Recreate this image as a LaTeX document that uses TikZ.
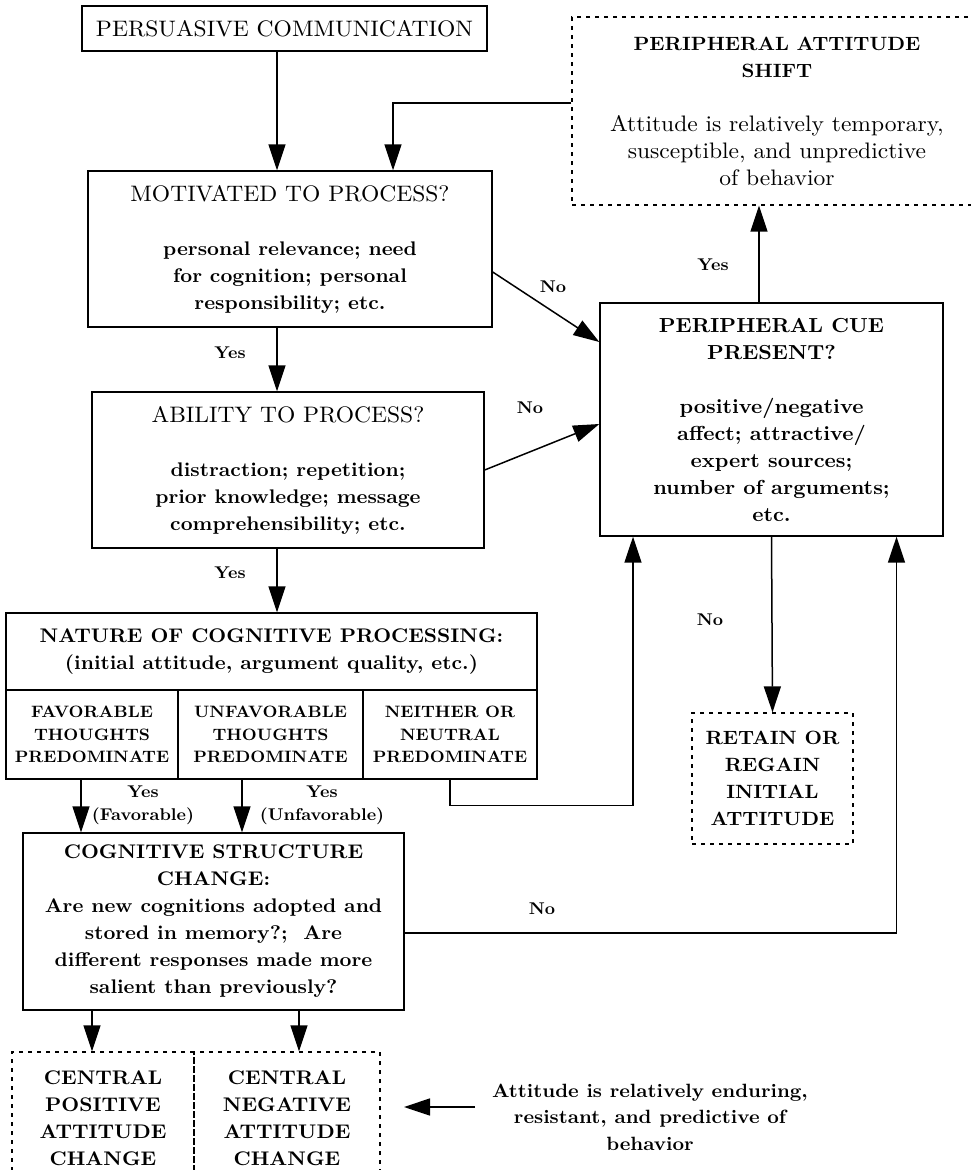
\documentclass[tikz,border=0pt]{standalone}
\usepackage{fontspec}
\setmainfont{lmroman10-regular.otf}[BoldFont=lmroman10-bold.otf, FakeStretch=1.05]
\usetikzlibrary{arrows.meta}
\tikzset{
  box/.style={draw, line width=1.4pt, inner sep=0pt, align=center,
    font=\bfseries\fontsize{19.7}{27}\selectfont},
  dbox/.style={box, line width=1.3pt, dash pattern=on 4pt off 5pt},
  sub/.style={box, font=\bfseries\fontsize{16.5}{22.5}\selectfont},
  plain/.style={font=\mdseries\fontsize{22.4}{27}\selectfont},
  lbl/.style={inner sep=0pt, align=center, font=\bfseries\fontsize{17}{23}\selectfont},
  arr/.style={line width=1.5pt, -{Triangle[length=26pt,width=17pt]}},
}

\begin{document}
\begin{tikzpicture}[x=1pt, y=-1pt]
    \useasboundingbox (0,0) rectangle (970,1170);
    \coordinate (spine) at (277,0);

    % left column
    \node[box, plain, minimum width=405pt, minimum height=45pt] (pc) at (284.5,28.5)
        {PERSUASIVE COMMUNICATION};
    \node[box, minimum width=404pt, minimum height=156pt] (mot) at (290,249)
        {\mdseries\fontsize{22.4}{27}\selectfont MOTIVATED TO PROCESS?\\[27pt]
        personal relevance; need\\ for cognition; personal\\ responsibility; etc.};
    \node[box, minimum width=392pt, minimum height=156pt] (abl) at (288,470)
        {\mdseries\fontsize{22.4}{27}\selectfont ABILITY TO PROCESS?\\[27pt]
        distraction; repetition;\\ prior knowledge; message\\ comprehensibility; etc.};
    \node[box, minimum width=531pt, minimum height=77pt] (nat) at (271.5,651.5)
        {NATURE OF COGNITIVE PROCESSING:\\
        (initial attitude, argument quality, etc.)};
    \node[sub, minimum width=172pt, minimum height=89pt] (fav) at (92,734.5)
        {FAVORABLE\\ THOUGHTS\\ PREDOMINATE};
    \node[sub, minimum width=185pt, minimum height=89pt] (unf) at (270.5,734.5)
        {UNFAVORABLE\\ THOUGHTS\\ PREDOMINATE};
    \node[sub, minimum width=174pt, minimum height=89pt] (nei) at (450,734.5)
        {NEITHER OR\\ NEUTRAL\\ PREDOMINATE};
    \node[box, minimum width=381pt, minimum height=177pt] (cog) at (213.5,921.5)
        {COGNITIVE STRUCTURE\\ CHANGE:\\
        Are new cognitions adopted and\\ stored in memory?;\ \ Are\\
        different responses made more\\ salient than previously?};
    \node[dbox, minimum width=182pt, minimum height=133pt] (cpos) at (103,1118.5)
        {CENTRAL\\ POSITIVE\\ ATTITUDE\\ CHANGE};
    \node[dbox, minimum width=186pt, minimum height=133pt] (cneg) at (287,1118.5)
        {CENTRAL\\ NEGATIVE\\ ATTITUDE\\ CHANGE};

    % right column
    \node[dbox, plain, minimum width=410pt, minimum height=188pt] (shift) at (777,111)
        {\bfseries\fontsize{19.2}{27}\selectfont PERIPHERAL ATTITUDE\\
        \bfseries\fontsize{19.2}{27}\selectfont SHIFT\\[27pt]
        Attitude is relatively temporary,\\ susceptible, and unpredictive\\
        of behavior};
    \node[box, minimum width=343pt, minimum height=233pt,
        font=\bfseries\fontsize{20.3}{27}\selectfont] (cue) at (771.5,419.5)
        {PERIPHERAL CUE\\ PRESENT?\\[27pt] positive/negative\\
        affect; attractive/\\ expert sources;\\ number of arguments;\\ etc.};
    \node[dbox, minimum width=161pt, minimum height=131pt,
        font=\bfseries\fontsize{19.2}{27}\selectfont] (ret) at (772.5,778.5)
        {RETAIN OR\\ REGAIN\\ INITIAL\\ ATTITUDE};
    \node[box, draw=none, font=\bfseries\fontsize{19.2}{26.5}\selectfont] (att) at (650,1117)
        {Attitude is relatively enduring,\\ resistant, and predictive of\\ behavior};

    % labels
    \node[lbl] (y1) at (230,353) {Yes};
    \node[lbl] (y2) at (230,573) {Yes};
    \node[lbl] (y3) at (143,805) {Yes\\(Favorable)};
    \node[lbl] (y4) at (322,805) {Yes\\(Unfavorable)};
    \node[lbl] (y5) at (713,265) {Yes};
    \node[lbl] (n1) at (553,287) {No};
    \node[lbl] (n2) at (530,408) {No};
    \node[lbl] (n3) at (710,620) {No};
    \node[lbl] (n4) at (542,909) {No};

    % connectors
    \draw[arr] (pc.south -| spine) -- (mot.north -| spine);
    \draw[arr] (mot.south -| spine) -- (abl.north -| spine);
    \draw[arr] (abl.south -| spine) -- (nat.north -| spine);
    \draw[arr] ([yshift=8pt]shift.west) -| ([xshift=103pt]mot.north);
    \draw[arr] ([xshift=-12.5pt]cue.north) -- ([xshift=-12.5pt]cue.north |- shift.south);
    \draw[arr] ([yshift=-23pt]mot.east) -- ([yshift=77.5pt]cue.west);
    \draw[arr] (abl.east) -- ([yshift=-4.5pt]cue.west);
    \draw[arr] ([xshift=-11pt]fav.south) -- ([xshift=-11pt]fav.south |- cog.north);
    \draw[arr] ([xshift=-28.5pt]unf.south) -- ([xshift=-28.5pt]unf.south |- cog.north);
    \draw[arr] (nei.south) -- ++(0,26) -| ([xshift=-138.5pt]cue.south);
    \draw[arr] (cue.south) -- (ret.north);
    \draw[arr] ([yshift=-11.5pt]cog.east) -| ([xshift=125pt]cue.south);
    \draw[arr] ([xshift=-121.5pt]cog.south) -- ([xshift=-11pt]cpos.north);
    \draw[arr] ([xshift=85.5pt]cog.south) -- ([xshift=12pt]cneg.north);
    \coordinate (tail) at (475,1107);
    \coordinate (tip) at (404,1107);
    \draw[arr] (tail) -- (tip);
\end{tikzpicture}
\end{document}
